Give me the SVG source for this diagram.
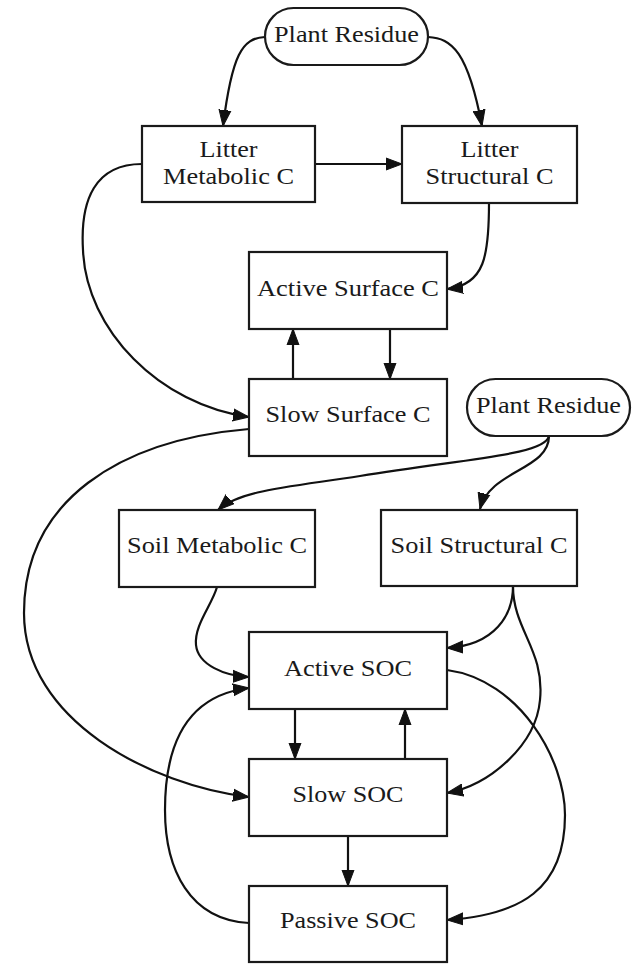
<svg xmlns="http://www.w3.org/2000/svg" width="636" height="964" viewBox="0 0 636 964">
<defs>
<style>
.node rect{fill:#fff;stroke:#1a1a1a;stroke-width:2.2}
.node text{font-family:"Liberation Serif","Times New Roman",serif;font-size:24px;fill:#1a1a1a;text-anchor:middle}
.edges path{fill:none;stroke:#111;stroke-width:2.2;marker-end:url(#ah)}
</style>
<marker id="ah" markerUnits="userSpaceOnUse" markerWidth="18" markerHeight="14" refX="16" refY="7" orient="auto">
<path d="M0,1 L16,7 L0,13 z" fill="#111" stroke="#111" stroke-width="1"/>
</marker>
</defs>
<rect width="636" height="964" fill="#fff"/>
<g class="edges" id="connectors">
<path d="M265,37 C242,38 232,55 223,126"/>
<path d="M428,37 C452,38 468,52 482,126"/>
<path d="M315,164 L402,164"/>
<path d="M489,203 C489,255 485,285 447,289"/>
<path d="M142,164 C95,164 80,200 83,250 C86,330 160,405 249,417"/>
<path d="M390,329 L390,379"/>
<path d="M293,379 L293,329"/>
<path d="M549,436 C545,455 470,458 360,476 C290,487 240,490 218,510"/>
<path d="M549,436 C549,470 490,470 480,509"/>
<path d="M249,429 C120,440 24,500 24,613 C24,720 150,785 249,797"/>
<path d="M217,587 C212,605 194,625 196,645 C198,665 225,676 249,677"/>
<path d="M249,923 C190,920 165,870 165,810 C165,740 190,695 249,688"/>
<path d="M295,709 L295,759"/>
<path d="M405,759 L405,709"/>
<path d="M513,586 C513,615 495,645 447,648"/>
<path d="M513,586 C513,630 545,650 540,700 C536,745 490,785 447,793"/>
<path d="M447,670 C520,680 565,760 565,815 C565,890 520,915 447,920"/>
<path d="M348,836 L348,886"/>
</g>
<g class="node" id="plant-residue-1"><rect x="265" y="8" width="163" height="57" rx="28.5"/><text x="346.5" y="42" textLength="145" lengthAdjust="spacingAndGlyphs">Plant Residue</text></g>
<g class="node" id="litter-metabolic"><rect x="142" y="126" width="173" height="76"/><text x="228.5" y="157" textLength="58" lengthAdjust="spacingAndGlyphs">Litter</text><text x="228.5" y="184" textLength="131" lengthAdjust="spacingAndGlyphs">Metabolic C</text></g>
<g class="node" id="litter-structural"><rect x="402" y="126" width="175" height="77"/><text x="489.5" y="157" textLength="58" lengthAdjust="spacingAndGlyphs">Litter</text><text x="489.5" y="184" textLength="128" lengthAdjust="spacingAndGlyphs">Structural C</text></g>
<g class="node" id="active-surface"><rect x="249" y="252" width="198" height="77"/><text x="348" y="296" textLength="182" lengthAdjust="spacingAndGlyphs">Active Surface C</text></g>
<g class="node" id="slow-surface"><rect x="249" y="379" width="198" height="77"/><text x="348" y="422" textLength="165" lengthAdjust="spacingAndGlyphs">Slow Surface C</text></g>
<g class="node" id="plant-residue-2"><rect x="467" y="379" width="163" height="57" rx="28.5"/><text x="548.5" y="413" textLength="145" lengthAdjust="spacingAndGlyphs">Plant Residue</text></g>
<g class="node" id="soil-metabolic"><rect x="119" y="510" width="196" height="77"/><text x="217" y="553" textLength="180" lengthAdjust="spacingAndGlyphs">Soil Metabolic C</text></g>
<g class="node" id="soil-structural"><rect x="381" y="510" width="196" height="76"/><text x="479" y="553" textLength="177" lengthAdjust="spacingAndGlyphs">Soil Structural C</text></g>
<g class="node" id="active-soc"><rect x="249" y="632" width="198" height="77"/><text x="348" y="676" textLength="128" lengthAdjust="spacingAndGlyphs">Active SOC</text></g>
<g class="node" id="slow-soc"><rect x="249" y="759" width="198" height="77"/><text x="348" y="802" textLength="111" lengthAdjust="spacingAndGlyphs">Slow SOC</text></g>
<g class="node" id="passive-soc"><rect x="249" y="886" width="198" height="76"/><text x="348" y="928" textLength="136" lengthAdjust="spacingAndGlyphs">Passive SOC</text></g>
</svg>
